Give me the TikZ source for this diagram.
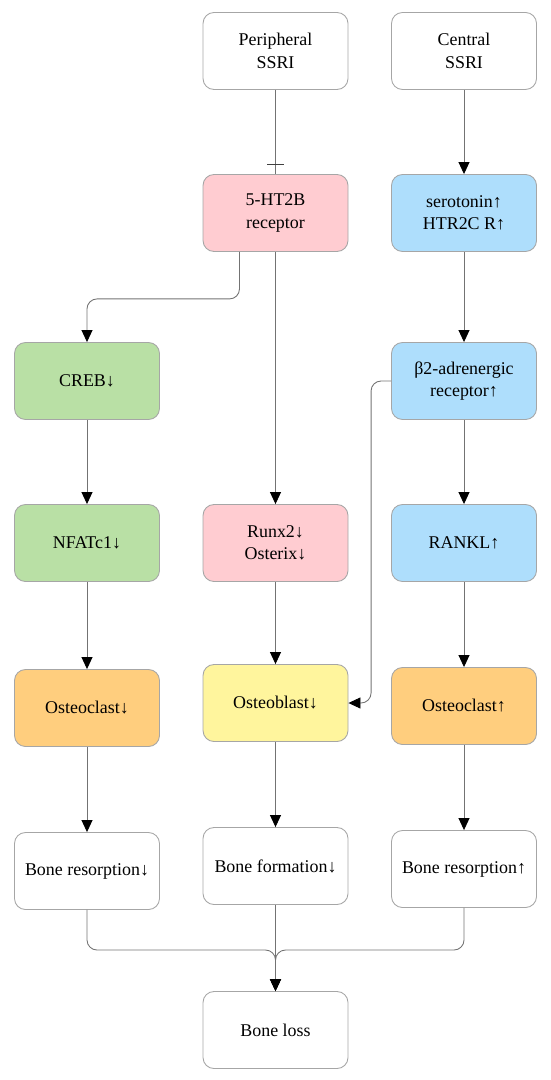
\documentclass[tikz,border=0pt]{standalone}
\usepackage{fontspec}
\setmainfont{Liberation Serif}
\usetikzlibrary{arrows.meta,decorations.markings}
\definecolor{pinkbox}{RGB}{255,204,209}
\definecolor{bluebox}{RGB}{174,222,252}
\definecolor{greenbox}{RGB}{185,224,165}
\definecolor{orangebox}{RGB}{255,206,126}
\definecolor{yellowbox}{RGB}{255,245,157}
\begin{document}
\begin{tikzpicture}[every node/.style={font=\fontsize{10.2}{12.8}\selectfont},
  box/.style={draw=black!35,line width=0.5pt,rounded corners=0.22cm,minimum width=2.9cm,minimum height=1.54cm,align=center,inner sep=0pt},
  link/.style={draw=black!55,line width=0.5pt,rounded corners=0.2cm,-{Triangle[length=0.24cm,width=0.22cm,color=black]}},
  blocked/.style={draw=black!55,line width=0.5pt,postaction={decorate},
    decoration={markings,mark=at position -0.2cm with {\draw[black!75,line width=0.6pt] (0,-0.17) -- (0,0.17);}}}]
\useasboundingbox (0,0) rectangle (11,-21.6);
% three columns: peripheral, shared, central
\node[box] (pssri) at (5.51,-1.02) {Peripheral\\SSRI};
\node[box] (cssri) at (9.28,-1.02) {Central\\SSRI};
\node[box,fill=pinkbox] (htr) at (5.51,-4.26) {5-HT2B\\receptor};
\node[box,fill=bluebox] (sero) at (9.28,-4.26) {serotonin↑\\HTR2C R↑};
\node[box,fill=greenbox] (creb) at (1.74,-7.62) {CREB↓};
\node[box,fill=bluebox] (adrb) at (9.28,-7.62) {β2-adrenergic\\receptor↑};
\node[box,fill=greenbox] (nfat) at (1.74,-10.86) {NFATc1↓};
\node[box,fill=pinkbox] (runx) at (5.51,-10.86) {Runx2↓\\Osterix↓};
\node[box,fill=bluebox] (rankl) at (9.28,-10.86) {RANKL↑};
\node[box,fill=orangebox] (oclastl) at (1.74,-14.16) {Osteoclast↓};
\node[box,fill=yellowbox] (oblast) at (5.51,-14.06) {Osteoblast↓};
\node[box,fill=orangebox] (oclastr) at (9.28,-14.12) {Osteoclast↑};
\node[box] (resl) at (1.74,-17.42) {Bone resorption↓};
\node[box] (form) at (5.51,-17.32) {Bone formation↓};
\node[box] (resr) at (9.28,-17.38) {Bone resorption↑};
\node[box] (loss) at (5.51,-20.6) {Bone loss};
\coordinate (merge) at (5.51,-19.0);
% connectors
\draw[blocked] (pssri) -- (htr);
\draw[link] (cssri) -- (sero);
\draw[link] ([xshift=-0.72cm]htr.south) -- ++(0,-0.94) -| (creb.north);
\draw[link] (htr) -- (runx);
\draw[link] (sero) -- (adrb);
\draw[link] (adrb.west) -- ++(-0.4,0) |- (oblast.east);
\foreach \a/\b in {creb/nfat,nfat/oclastl,oclastl/resl,runx/oblast,oblast/form,adrb/rankl,rankl/oclastr,oclastr/resr,form/loss}
  \draw[link] (\a) -- (\b);
\foreach \a in {resl,resr}
  \draw[link] (\a.south) |- (merge) -- (loss);
\end{tikzpicture}
\end{document}
